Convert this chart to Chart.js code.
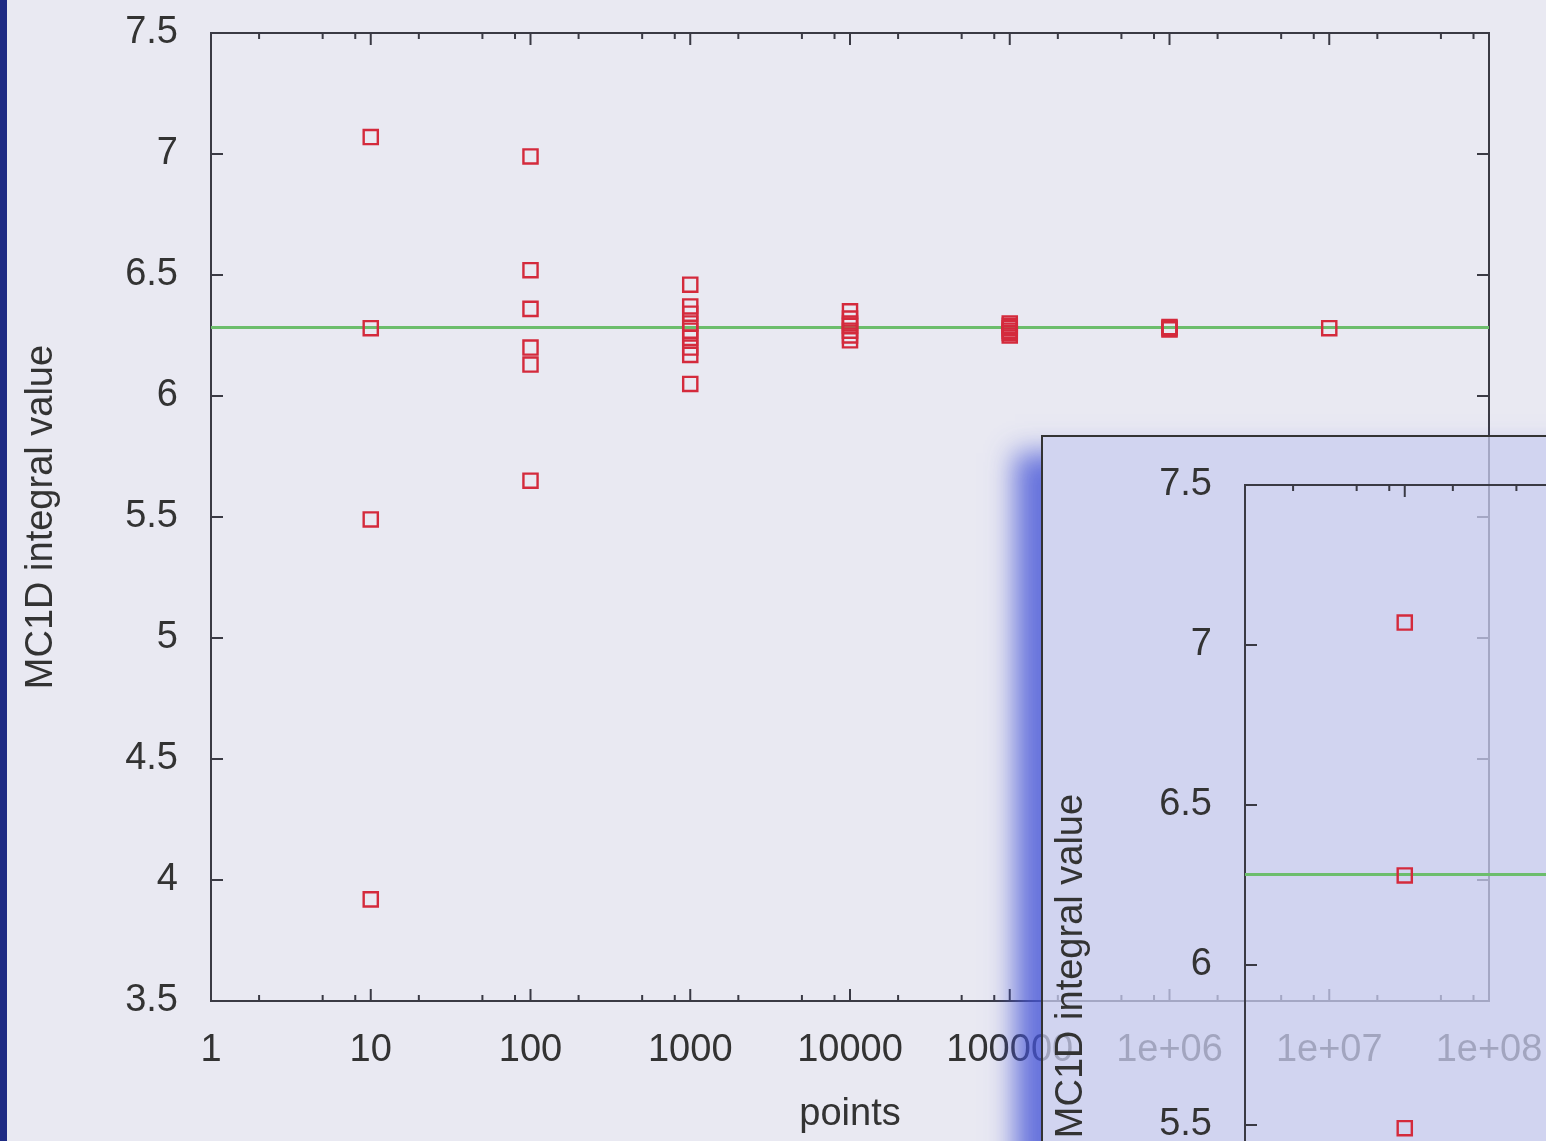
<!DOCTYPE html>
<html><head><meta charset="utf-8">
<script src="https://cdn.jsdelivr.net/npm/chart.js@4.4.1/dist/chart.umd.min.js"></script>
<style>
html,body{margin:0;padding:0;width:1546px;height:1141px;overflow:hidden;background:#e9e9f2;}
#strip{position:absolute;left:0;top:0;width:7px;height:1141px;background:#1e2b84;}
#main{position:absolute;left:0;top:0;}
#panel{position:absolute;left:1041px;top:435px;width:700px;height:900px;background:rgba(200,204,239,0.75);border-left:2px solid #333;border-top:2px solid #333;box-shadow:-26px 18px 26px rgba(70,85,215,0.8);}
#inset{position:absolute;left:1041px;top:435px;}
</style>
</head><body>
<div id="strip"></div>
<canvas id="main" width="1546" height="1141" style="width:1546px;height:1141px"></canvas>
<div id="panel"></div>
<canvas id="inset" width="1539" height="1470" style="width:1539px;height:1470px"></canvas>
<script>
// ---- data ----
const nPoints = [10, 100, 1000, 10000, 100000, 1000000, 10000000];
const values10 = [7.07, 6.28, 5.49, 3.92];
const values100 = [6.99, 6.52, 6.36, 6.20, 6.13, 5.65];
const values1000 = [6.46, 6.37, 6.34, 6.30, 6.27, 6.24, 6.20, 6.17, 6.05];
const values10000 = [6.35, 6.32, 6.30, 6.29, 6.27, 6.25, 6.23];
const values100000 = [6.30, 6.29, 6.28, 6.27, 6.26, 6.25];
const values1e6 = [6.285, 6.28, 6.275];
const values1e7 = [6.28];
const exactX = [1, 100000000];
const exactY = [6.2832, 6.2832];
const xTickValues = [1, 10, 100, 1000, 10000, 100000, 1000000, 10000000, 100000000];
const xTickLabels = ['1', '10', '100', '1000', '10000', '100000', '1e+06', '1e+07', '1e+08'];
const xMinorFactors = [2, 5, 8];
const yTickValues = [3.5, 4, 4.5, 5, 5.5, 6, 6.5, 7, 7.5];
const yTickLabels = ['3.5', '4', '4.5', '5', '5.5', '6', '6.5', '7', '7.5'];
const yLabel = 'MC1D integral value';
const xLabel = 'points';

const groups = [values10, values100, values1000, values10000, values100000, values1e6, values1e7];
const scatterData = [];
groups.forEach((arr, i) => arr.forEach(v => scatterData.push({x: nPoints[i], y: v})));
const lineData = exactX.map((x, i) => ({x, y: exactY[i]}));

const FONT = 'Liberation Sans, Arial, Helvetica, sans-serif';
const TXT = '#333333';
const NONE = 'rgba(0,0,0,0)';

const framePlugin = {
  id: 'frame',
  beforeDatasetsDraw(chart, args, opts) {
    const {ctx, chartArea: a} = chart;
    const xs = chart.scales.x, ys = chart.scales.y;
    ctx.save();
    ctx.strokeStyle = '#3a3a44';
    ctx.lineWidth = 2;
    ctx.strokeRect(a.left, a.top, a.right - a.left, a.bottom - a.top);
    ctx.beginPath();
    xTickValues.forEach(v => {
      const px = xs.getPixelForValue(v);
      ctx.moveTo(px, a.bottom); ctx.lineTo(px, a.bottom - 12);
      ctx.moveTo(px, a.top); ctx.lineTo(px, a.top + 12);
      if (v < xTickValues[xTickValues.length - 1]) {
        xMinorFactors.forEach(f => {
          const mx = xs.getPixelForValue(v * f);
          ctx.moveTo(mx, a.bottom); ctx.lineTo(mx, a.bottom - 6);
          ctx.moveTo(mx, a.top); ctx.lineTo(mx, a.top + 6);
        });
      }
    });
    yTickValues.forEach(v => {
      const py = ys.getPixelForValue(v);
      ctx.moveTo(a.left, py); ctx.lineTo(a.left + 12, py);
      ctx.moveTo(a.right, py); ctx.lineTo(a.right - 12, py);
    });
    ctx.stroke();
    ctx.restore();
  },
  afterDraw(chart, args, opts) {
    if (!opts || !opts.ylabelAt) return;
    const ctx = chart.ctx;
    ctx.save();
    ctx.translate(opts.ylabelAt[0], opts.ylabelAt[1]);
    ctx.rotate(-Math.PI / 2);
    ctx.font = '38px ' + FONT;
    ctx.fillStyle = TXT;
    ctx.textAlign = 'center';
    ctx.textBaseline = 'middle';
    ctx.fillText(yLabel, 0, 0);
    ctx.restore();
  }
};

function makeChart(id, yWidth, topPad, showTitles, ylabelAt) {
  return new Chart(document.getElementById(id), {
    type: 'scatter',
    data: {
      datasets: [
        {type: 'line', data: lineData, borderColor: '#6cbd6c', borderWidth: 3, pointRadius: 0, fill: false, order: 2},
        {data: scatterData, pointStyle: 'rect', pointRadius: 10, pointBorderWidth: 2.4,
         borderColor: '#d42a3c', backgroundColor: NONE, order: 1}
      ]
    },
    options: {
      responsive: false, animation: false,
      layout: {padding: {left: 0, right: 57, top: topPad, bottom: 0}},
      plugins: {legend: {display: false}, tooltip: {enabled: false},
        frame: {ylabelAt: ylabelAt}},
      scales: {
        x: {
          type: 'logarithmic', min: 1, max: 100000000,
          afterBuildTicks: s => { s.ticks = xTickValues.map(v => ({value: v})); },
          afterFit: s => { s.height = 140; },
          grid: {display: true, drawOnChartArea: false, drawTicks: true, tickLength: 25, color: NONE},
          border: {display: false},
          ticks: {autoSkip: false, maxRotation: 0, padding: 2, color: TXT, font: {family: FONT, size: 38},
            callback: (v) => { const i = xTickValues.indexOf(v); return i >= 0 ? xTickLabels[i] : ''; }},
          title: {display: showTitles, text: xLabel, color: TXT, font: {family: FONT, size: 38}, padding: {top: 4, bottom: 4}}
        },
        y: {
          min: 3.5, max: 7.5,
          afterBuildTicks: s => { s.ticks = yTickValues.map(v => ({value: v})); },
          afterFit: s => { s.width = yWidth; },
          grid: {display: true, drawOnChartArea: false, drawTicks: true, tickLength: 28, color: NONE},
          border: {display: false},
          ticks: {padding: 5, color: TXT, font: {family: FONT, size: 38},
            callback: (v) => { const i = yTickValues.indexOf(v); return i >= 0 ? yTickLabels[i] : ''; }},
          title: {display: showTitles, text: yLabel, color: TXT, font: {family: FONT, size: 38}, padding: {top: 19, bottom: 0}}
        }
      }
    },
    plugins: [framePlugin]
  });
}

makeChart('main', 211, 33, true, null);
makeChart('inset', 204, 50, false, [31, 531]);
</script>
</body></html>
